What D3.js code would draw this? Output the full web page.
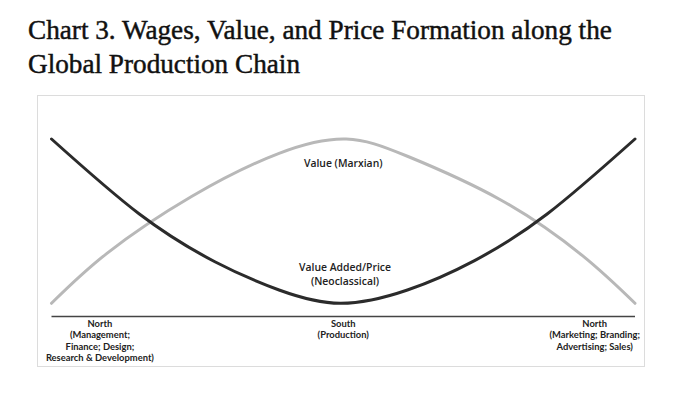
<!DOCTYPE html>
<html lang="en">

<head>
    <meta charset="UTF-8">
    <title>Chart 3 - Wages, Value, and Price</title>
    <script src="https://d3js.org/d3.v7.min.js"></script>
    <style>
        body {
            margin: 0;
            background: #fff;
        }

        .title {
            font-family: "Liberation Serif", serif;
            font-size: 23px;
            fill: #111;
            stroke: #111;
            stroke-width: 0.45px;
        }

        .lbl {
            font-family: "Open Sans", sans-serif;
            font-weight: 600;
            fill: #222;
        }

        .axlbl {
            font-family: Lato, sans-serif;
            font-weight: bold;
            fill: #222;
        }
    </style>
</head>

<body>
    <svg id="chart" width="687" height="399"></svg>
    <script>
        // position along the chain (0 = upstream North, 100 = downstream North), height 0..100
        let priceX = [0, 15, 28, 39, 49.5, 61, 72.5, 85, 100]
        let priceY = [100, 54.5, 25.3, 8.1, 0, 8.1, 26, 54.5, 100]
        let valueX = [0, 9.5, 24, 39, 50.5, 61, 77, 91, 100]
        let valueY = [0, 30.4, 65, 91.3, 100, 89.5, 62.9, 29, 0]

        let titleLines = ["Chart 3. Wages, Value, and Price Formation along the", "Global Production Chain"]
        let axisLabels = [
            { x: 8.3, lines: ["North", "(Management;", "Finance; Design;", "Research & Development)"] },
            { x: 50, lines: ["South", "(Production)"] },
            { x: 93.1, lines: ["North", "(Marketing; Branding;", "Advertising; Sales)"] }
        ]
        let curveLabels = [
            { x: 50, y: 83, lines: ["Value (Marxian)"] },
            { x: 50.3, y: 19.7, lines: ["Value Added/Price", "(Neoclassical)"] }
        ]

        let svg = d3.select("#chart")
        svg.append("rect").attr("width", 687).attr("height", 399).attr("fill", "#fff")

        // title
        svg.selectAll(".title")
            .data(titleLines)
            .enter()
            .append("text")
            .attr("class", "title")
            .attr("x", 28)
            .attr("y", function (d, i) { return 39 + i * 34 })
            .text(function (d) { return d })
        // stretch font to match the printed width
        let t0 = svg.select(".title").node()
        let w0 = t0.getComputedTextLength()
        let fs = 23 * 584 / w0
        svg.selectAll(".title").style("font-size", fs + "px")

        // frame
        svg.append("rect")
            .attr("x", 37.5).attr("y", 95.5)
            .attr("width", 607).attr("height", 271)
            .attr("fill", "none")
            .attr("stroke", "#dcdcdc")
            .attr("stroke-width", 1)

        let xScale = d3.scaleLinear().domain([0, 100]).range([51.5, 635])
        let yScale = d3.scaleLinear().domain([0, 100]).range([303.3, 139])

        // baseline axis
        svg.append("line")
            .attr("x1", xScale(0)).attr("x2", xScale(100))
            .attr("y1", 316.5).attr("y2", 316.5)
            .attr("stroke", "#444")
            .attr("stroke-width", 1.5)

        let line = d3.line()
            .x(function (d) { return xScale(d[0]) })
            .y(function (d) { return yScale(d[1]) })
            .curve(d3.curveNatural)

        svg.append("path")
            .attr("d", line(d3.zip(valueX, valueY)))
            .attr("fill", "none")
            .attr("stroke", "#b8b8b8")
            .attr("stroke-width", 3)
            .attr("stroke-linecap", "round")

        svg.append("path")
            .attr("d", line(d3.zip(priceX, priceY)))
            .attr("fill", "none")
            .attr("stroke", "#2b2b2b")
            .attr("stroke-width", 3)
            .attr("stroke-linecap", "round")

        // curve labels
        curveLabels.forEach(function (c) {
            let t = svg.append("text")
                .attr("class", "lbl")
                .attr("text-anchor", "middle")
                .style("font-size", "10.4px")
            c.lines.forEach(function (s, i) {
                t.append("tspan")
                    .attr("x", xScale(c.x))
                    .attr("y", yScale(c.y) + i * 14)
                    .text(s)
            })
        })

        // axis category labels
        axisLabels.forEach(function (c) {
            let t = svg.append("text")
                .attr("class", "axlbl")
                .attr("text-anchor", "middle")
                .style("font-size", "9.4px")
            c.lines.forEach(function (s, i) {
                t.append("tspan")
                    .attr("x", xScale(c.x))
                    .attr("y", 327 + i * 11.4)
                    .text(s)
            })
        })
    </script>
</body>

</html>
